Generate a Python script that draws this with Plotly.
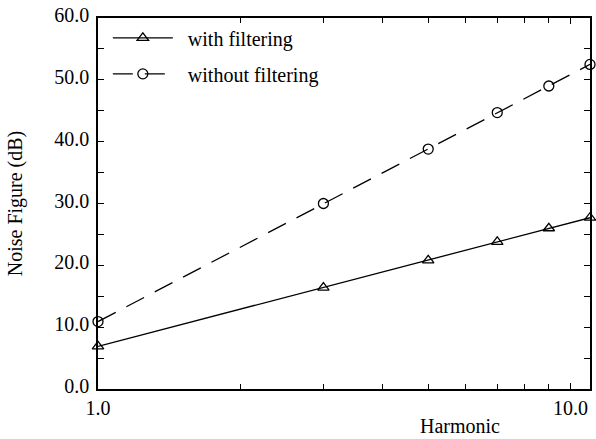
import plotly.graph_objects as go

harmonic = [1, 3, 5, 7, 9, 11]
with_filtering = [6.9, 16.4, 20.8, 23.8, 26.0, 27.7]
without_filtering = [10.9, 30.0, 38.8, 44.7, 49.0, 52.5]
x_tickvals = [1, 10]
x_ticktext = ["1.0", "10.0"]
y_tickvals = [0, 10, 20, 30, 40, 50, 60]
y_ticktext = ["0.0", "10.0", "20.0", "30.0", "40.0", "50.0", "60.0"]
series_names = ["\u00a0\u00a0with filtering", "\u00a0\u00a0without filtering"]

font = dict(family="Liberation Serif, Times New Roman, serif", size=20, color="black")

fig = go.Figure()
fig.add_trace(go.Scatter(
    x=harmonic, y=with_filtering, mode="lines+markers", name=series_names[0],
    legendgroup="a",
    line=dict(color="black", width=1.3),
    marker=dict(symbol="triangle-up-open", size=10, color="black", line=dict(width=1.3)),
    cliponaxis=False,
))
fig.add_trace(go.Scatter(
    x=harmonic, y=without_filtering, mode="lines+markers", name=series_names[1],
    legendgroup="b",
    line=dict(color="black", width=1.3, dash="20px,12px"),
    marker=dict(symbol="circle-open", size=10, color="black", line=dict(width=1.3)),
    cliponaxis=False,
))

axis_common = dict(
    showline=True, linecolor="black", linewidth=1.6, mirror="allticks",
    ticks="inside", tickcolor="black", tickwidth=1, ticklen=6,
    showgrid=False, zeroline=False, tickfont=font,
)

fig.update_xaxes(
    type="log", range=[0, 1.0414],
    tickmode="array", tickvals=x_tickvals, ticktext=x_ticktext,
    minor=dict(dtick="D1", ticks="inside", ticklen=5, tickcolor="black", showgrid=False),
    **axis_common,
)
fig.update_yaxes(
    range=[0, 60],
    tickmode="array", tickvals=y_tickvals, ticktext=y_ticktext,
    minor=dict(dtick=5, ticks="inside", ticklen=6, tickcolor="black", showgrid=False),
    title=dict(text="Noise Figure (dB)", font=font, standoff=26),
    ticklabelshift=-3, ticklabelstandoff=3, ticklabeloverflow="allow",
    **axis_common,
)

fig.add_annotation(
    text="Harmonic", xref="paper", yref="paper", x=0.735, y=-0.066,
    xanchor="center", yanchor="top", showarrow=False, font=font,
)

fig.update_layout(
    width=596, height=439,
    margin=dict(l=98, r=4, t=13, b=50),
    paper_bgcolor="white", plot_bgcolor="white",
    font=font,
    showlegend=True,
    legend=dict(x=0.02, y=0.999, xanchor="left", yanchor="top",
                bgcolor="rgba(0,0,0,0)", font=font, itemwidth=60,
                tracegroupgap=7),
)

fig.write_html("out.html", config={"displayModeBar": False},
               post_script="document.body.style.margin='0px';")
